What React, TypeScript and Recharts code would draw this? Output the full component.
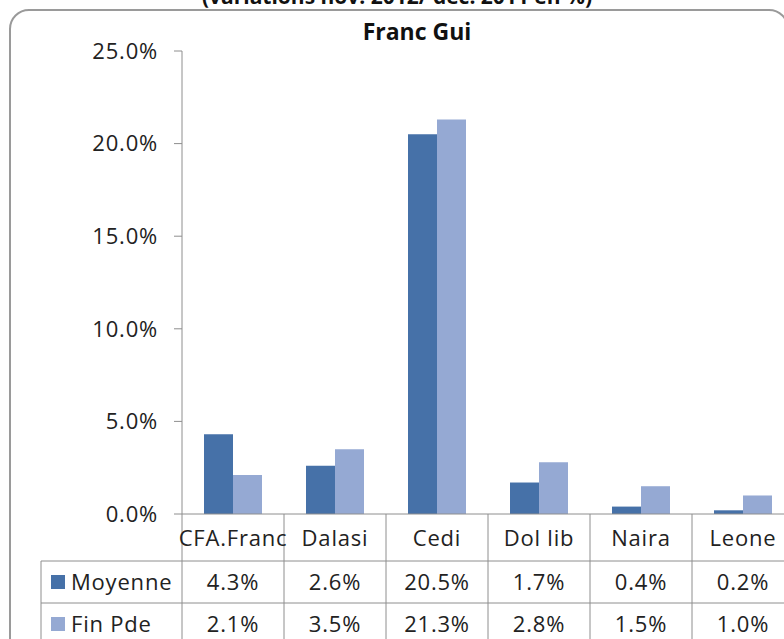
import React from "react";
import { BarChart, Bar, XAxis, YAxis } from "recharts";

const categories = ["CFA.Franc", "Dalasi", "Cedi", "Dol lib", "Naira", "Leone"];
const moyenne = [4.3, 2.6, 20.5, 1.7, 0.4, 0.2];
const finPde = [2.1, 3.5, 21.3, 2.8, 1.5, 1.0];
const yTicks = [0, 5, 10, 15, 20, 25];
const seriesNames = ["Moyenne", "Fin Pde"];

const DARK = "#4671a8";
const LIGHT = "#95a9d3";
const GRID = "#8e8e8e";
const FONT = "'Open Sans', sans-serif";
const BAND = 102;
const FS = 22;
const LS = 0.8;

const data = categories.map((c, i) => ({ name: c, moyenne: moyenne[i], finPde: finPde[i] }));
const seriesValues = [moyenne, finPde];
const seriesColors = [DARK, LIGHT];

const pct = (v: number) => `${v.toFixed(1)}%`;

const TableTick = (props: any) => {
  const { x, y, payload } = props;
  const i = props.index ?? payload.index;
  const half = BAND / 2;
  const rowTop = [y + 47, y + 89];
  const bottom = y + 140;
  return (
    <g>
      <line x1={x + half} y1={y} x2={x + half} y2={bottom} stroke={GRID} />
      {i === 0 && <line x1={x - half} y1={y} x2={x - half} y2={bottom} stroke={GRID} />}
      <text x={x} y={y + 23} textAnchor="middle" dominantBaseline="central" fontSize={FS} letterSpacing={LS} fill="#222" fontFamily={FONT}>
        {payload.value}
      </text>
      {rowTop.map((ry, r) => (
        <g key={r}>
          <line x1={x - half} y1={ry} x2={x + half} y2={ry} stroke={GRID} />
          <text x={x} y={ry + 20} textAnchor="middle" dominantBaseline="central" fontSize={FS} letterSpacing={LS} fill="#222" fontFamily={FONT}>
            {pct(seriesValues[r][i])}
          </text>
        </g>
      ))}
      {i === 0 && (
        <g>
          <line x1={41} y1={rowTop[0]} x2={41} y2={bottom} stroke={GRID} />
          {rowTop.map((ry, r) => (
            <g key={r}>
              <line x1={41} y1={ry} x2={x - half} y2={ry} stroke={GRID} />
              <rect x={51} y={ry + 14} width={14} height={14} fill={seriesColors[r]} />
              <text x={71} y={ry + 20} dominantBaseline="central" fontSize={FS} letterSpacing={LS} fill="#222" fontFamily={FONT}>
                {seriesNames[r]}
              </text>
            </g>
          ))}
        </g>
      )}
    </g>
  );
};

export default function App() {
  return (
    <div style={{ position: "absolute", left: 0, top: 0, width: 784, height: 639, overflow: "hidden", background: "#fff", fontFamily: FONT }}>
      <div style={{ position: "absolute", left: 0, width: 794, top: -16, textAlign: "center", fontSize: 21, fontWeight: 700, lineHeight: "24px", color: "#111" }}>
        (variations nov. 2012/ déc. 2011 en %)
      </div>
      <div style={{ position: "absolute", left: 9, top: 9, width: 776, height: 700, border: "2px solid #9a9a9a", borderRadius: 20 }} />
      <div style={{ position: "absolute", left: 0, width: 834, top: 16, textAlign: "center", fontSize: 23, fontWeight: 700, lineHeight: "30px", color: "#111" }}>
        Franc Gui
      </div>
      <div style={{ position: "absolute", left: 0, top: 0 }}>
        <BarChart width={800} height={660} data={data} margin={{ top: 51, right: 6, left: 92, bottom: 0 }} barGap={0} barSize={29}>
          <XAxis dataKey="name" height={146} axisLine={{ stroke: GRID }} tickLine={false} tickSize={0} tickMargin={0} tick={<TableTick />} interval={0} />
          <YAxis
            width={90}
            domain={[0, 25]}
            ticks={yTicks}
            tickFormatter={pct}
            axisLine={{ stroke: GRID }}
            tickLine={{ stroke: GRID }}
            tickSize={8}
            tickMargin={16}
            tick={{ fontSize: FS, fill: "#222", fontFamily: FONT, letterSpacing: LS }}
          />
          <Bar dataKey="moyenne" fill={DARK} isAnimationActive={false} />
          <Bar dataKey="finPde" fill={LIGHT} isAnimationActive={false} />
        </BarChart>
      </div>
    </div>
  );
}
